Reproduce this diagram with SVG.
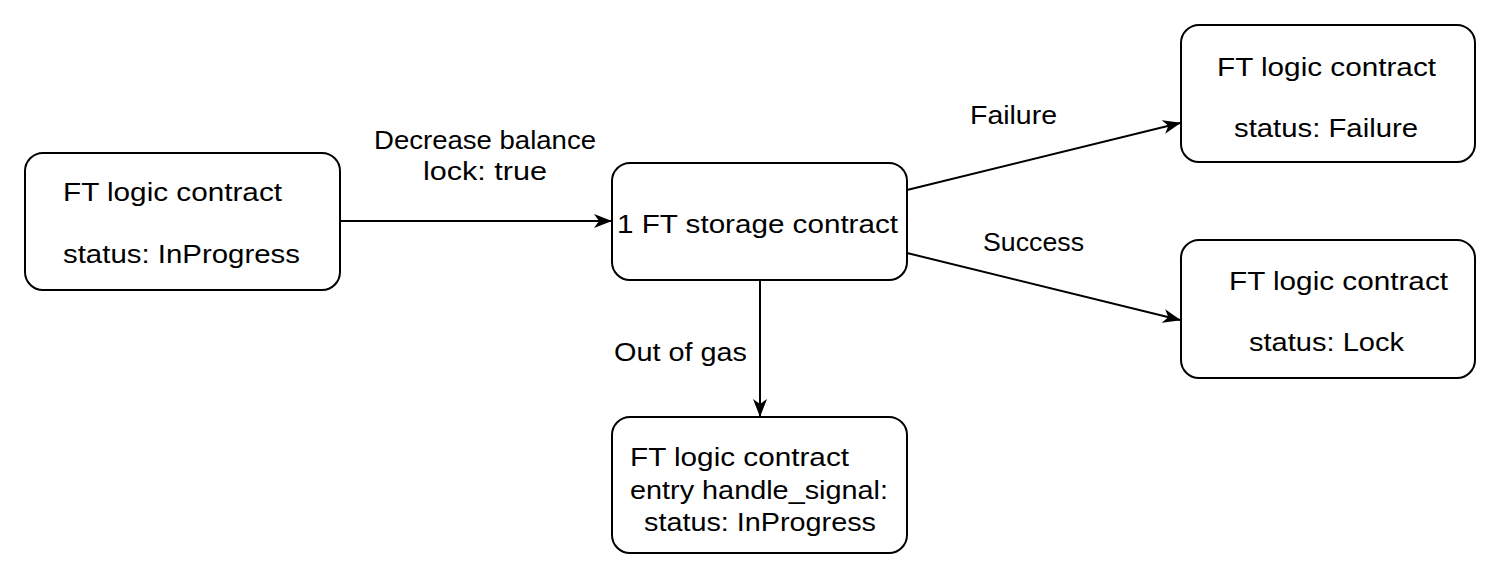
<svg xmlns="http://www.w3.org/2000/svg" width="1500" height="580" viewBox="0 0 1500 580">
<style>
.box{fill:#fff;stroke:#000;stroke-width:2}
.t{font-family:"Comic Sans MS","Liberation Sans",sans-serif;font-size:26px;fill:#000}
.c{fill:none;stroke:#000;stroke-width:2}
</style>
<defs>
<marker id="arr" viewBox="0 0 18 14" refX="17" refY="7" markerWidth="18" markerHeight="14" markerUnits="userSpaceOnUse" orient="auto">
<path d="M0,0 L18,7 L0,14 L5,7 Z" fill="#000"/>
</marker>
</defs>
<rect width="1500" height="580" fill="#fff"/>
<g id="connectors">
<path class="c" d="M340,221 L611,221" marker-end="url(#arr)"/>
<path class="c" d="M907,190 L1180,123" marker-end="url(#arr)"/>
<path class="c" d="M907,253 L1180,320" marker-end="url(#arr)"/>
<path class="c" d="M760,280 L760,416" marker-end="url(#arr)"/>
<text class="t" x="485" y="149" text-anchor="middle" textLength="222" lengthAdjust="spacingAndGlyphs">Decrease balance</text>
<text class="t" x="485" y="180" text-anchor="middle" textLength="124" lengthAdjust="spacingAndGlyphs">lock: true</text>
<text class="t" x="970" y="124" textLength="87" lengthAdjust="spacingAndGlyphs">Failure</text>
<text class="t" x="983" y="251" textLength="101" lengthAdjust="spacingAndGlyphs">Success</text>
<text class="t" x="614" y="361" textLength="133" lengthAdjust="spacingAndGlyphs">Out of gas</text>
</g>
<g id="node-inprogress">
<rect class="box" x="25" y="153" width="315" height="137" rx="18"/>
<text class="t" x="63" y="201" textLength="219" lengthAdjust="spacingAndGlyphs">FT logic contract</text>
<text class="t" x="63" y="263" textLength="237" lengthAdjust="spacingAndGlyphs">status: InProgress</text>
</g>
<g id="node-storage">
<rect class="box" x="612" y="163" width="295" height="117" rx="18"/>
<text class="t" x="617" y="233" textLength="281" lengthAdjust="spacingAndGlyphs">1 FT storage contract</text>
</g>
<g id="node-failure">
<rect class="box" x="1181" y="25" width="294" height="137" rx="18"/>
<text class="t" x="1217" y="76" textLength="219" lengthAdjust="spacingAndGlyphs">FT logic contract</text>
<text class="t" x="1234" y="137" textLength="184" lengthAdjust="spacingAndGlyphs">status: Failure</text>
</g>
<g id="node-lock">
<rect class="box" x="1181" y="240" width="294" height="138" rx="18"/>
<text class="t" x="1229" y="290" textLength="219" lengthAdjust="spacingAndGlyphs">FT logic contract</text>
<text class="t" x="1249" y="351" textLength="155" lengthAdjust="spacingAndGlyphs">status: Lock</text>
</g>
<g id="node-handle-signal">
<rect class="box" x="612" y="417" width="295" height="136" rx="18"/>
<text class="t" x="630" y="466" textLength="219" lengthAdjust="spacingAndGlyphs">FT logic contract</text>
<text class="t" x="630" y="499" textLength="258" lengthAdjust="spacingAndGlyphs">entry handle_signal:</text>
<text class="t" x="644" y="531" textLength="232" lengthAdjust="spacingAndGlyphs">status: InProgress</text>
</g>
</svg>
